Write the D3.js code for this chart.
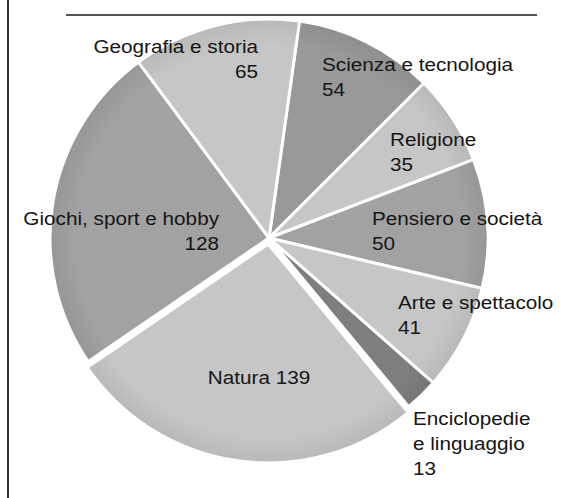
<!DOCTYPE html>
<html>
<head>
<meta charset="utf-8">
<script src="https://cdn.jsdelivr.net/npm/d3@7"></script>
<style>
  html, body { margin: 0; padding: 0; background: #fff; }
  svg { display: block; }
</style>
</head>
<body>
<svg></svg>
<script>
// Book categories, clockwise from the top
const categories = [
  'Scienza e tecnologia',
  'Religione',
  'Pensiero e società',
  'Arte e spettacolo',
  'Enciclopedie e linguaggio',
  'Natura',
  'Giochi, sport e hobby',
  'Geografia e storia'
];
const values = [54, 35, 50, 41, 13, 139, 128, 65];

// grey shades used for the slices
const shades = ['#999999', '#c6c6c6', '#a2a2a2', '#c6c6c6', '#7e7e7e', '#c6c6c6', '#a2a2a2', '#c6c6c6'];

// label placement relative to the pie centre (layout only)
const labelPos = [
  { dx: 53, dy: -167, anchor: 'start' },
  { dx: 121, dy: -92, anchor: 'start' },
  { dx: 103, dy: -13, anchor: 'start' },
  { dx: 129, dy: 71, anchor: 'start' },
  { dx: 144, dy: 187, anchor: 'start' },
  { dx: -10, dy: 146, anchor: 'middle' },
  { dx: -50, dy: -13, anchor: 'end' },
  { dx: -11, dy: -185, anchor: 'end' }
];

const width = 561,
  height = 498;

const svg = d3.select('svg').attr('width', width).attr('height', height);

const cx = 269,
  cy = 238,
  radius = 219;

const color = d3.scaleOrdinal(categories, shades);

const pie = d3
  .pie()
  .sort(null)
  .value((d) => d.value)
  .startAngle((8 * Math.PI) / 180)
  .endAngle((8 * Math.PI) / 180 + 2 * Math.PI);

const data = categories.map((c, i) => ({ name: c, value: values[i] }));
const arcs = pie(data);

const arc = d3.arc().innerRadius(0).outerRadius(radius);

// soft darker rim like the original
const defs = svg.append('defs');
const rim = defs
  .append('radialGradient')
  .attr('id', 'rim')
  .attr('gradientUnits', 'userSpaceOnUse')
  .attr('cx', 0)
  .attr('cy', 0)
  .attr('r', radius);
rim.append('stop').attr('offset', '88%').attr('stop-color', '#000').attr('stop-opacity', 0);
rim.append('stop').attr('offset', '100%').attr('stop-color', '#000').attr('stop-opacity', 0.07);

// frame lines
svg
  .append('line')
  .attr('x1', 8)
  .attr('x2', 8)
  .attr('y1', 0)
  .attr('y2', height)
  .attr('stroke', '#333')
  .attr('stroke-width', 2);

svg
  .append('line')
  .attr('x1', 66)
  .attr('x2', 537)
  .attr('y1', 15)
  .attr('y2', 15)
  .attr('stroke', '#555')
  .attr('stroke-width', 2);

const g = svg.append('g').attr('transform', `translate(${cx},${cy})`);

// Natura is pulled out a little
const explode = (d) => (d.data.name === 'Natura' ? 6 : 0);

const slice = g
  .selectAll('g.slice')
  .data(arcs)
  .enter()
  .append('g')
  .attr('class', 'slice')
  .attr('transform', (d) => {
    const a = (d.startAngle + d.endAngle) / 2;
    const o = explode(d);
    return `translate(${Math.sin(a) * o},${-Math.cos(a) * o})`;
  });

slice
  .append('path')
  .attr('d', arc)
  .attr('fill', (d) => color(d.data.name))
  .attr('stroke', '#fff')
  .attr('stroke-width', 3)
  .attr('stroke-linejoin', 'round');

slice
  .append('path')
  .attr('d', d3.arc().innerRadius(0).outerRadius(radius - 1.5))
  .attr('fill', 'url(#rim)');

// labels
const lineH = 25;
const labels = g
  .selectAll('text.lbl')
  .data(arcs)
  .enter()
  .append('text')
  .attr('class', 'lbl')
  .attr('font-family', '"Liberation Sans", Arial, sans-serif')
  .attr('font-size', 18.5)
  .attr('fill', '#151515')
  .attr('text-anchor', (d, i) => labelPos[i].anchor)
  .attr('transform', (d, i) => `translate(${labelPos[i].dx},${labelPos[i].dy}) scale(1.12,1)`);

labels.each(function (d) {
  const name = d.data.name;
  let lines;
  if (name === 'Natura') lines = [`${name} ${d.data.value}`];
  else if (name === 'Enciclopedie e linguaggio')
    lines = ['Enciclopedie', 'e linguaggio', String(d.data.value)];
  else lines = [name, String(d.data.value)];

  d3.select(this)
    .selectAll('tspan')
    .data(lines)
    .enter()
    .append('tspan')
    .attr('x', 0)
    .attr('y', (l, j) => j * lineH)
    .text((l) => l);
});
</script>
</body>
</html>
